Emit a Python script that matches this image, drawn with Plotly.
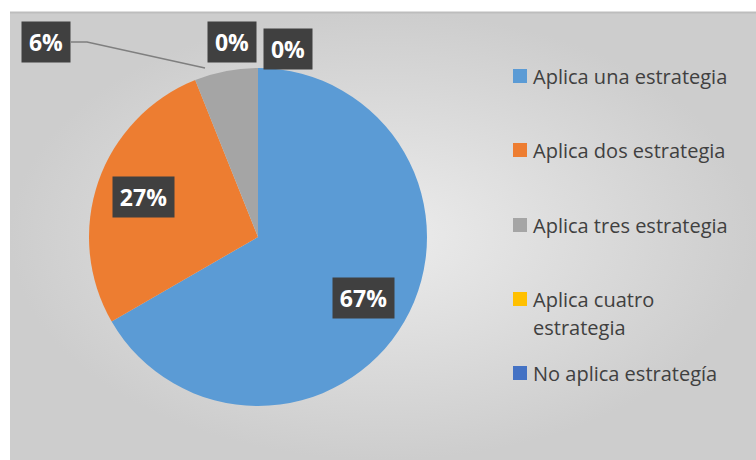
import math
import plotly.graph_objects as go

# ---- data ----
labels = ["Aplica una estrategia", "Aplica dos estrategia", "Aplica tres estrategia",
          "Aplica cuatro<br>estrategia", "No aplica estrategía"]
values = [22, 9, 2, 0, 0]
colors = ["#5b9bd5", "#ed7d31", "#a5a5a5", "#ffc000", "#4472c4"]

W, H = 756, 460
CX, CY, R = 258, 237, 169

total = sum(values)
pct_text = [f"{round(v / total * 100)}%" for v in values]

fig = go.Figure()

# background panel with gradient
fig.add_trace(go.Scatter(
    x=[10, W, W, 10, 10], y=[12, 12, H, H, 12], mode="lines", fill="toself",
    line=dict(width=0), hoverinfo="skip", showlegend=False,
    fillgradient=dict(type="radial", colorscale=[[0, "#ececec"], [1, "#cdcdcd"]]),
))

fig.add_trace(go.Pie(
    values=values, labels=labels, sort=False, direction="clockwise", rotation=0,
    marker=dict(colors=colors, line=dict(width=0)), textinfo="none",
    showlegend=False, hoverinfo="label+percent",
    domain=dict(x=[(CX - R) / W, (CX + R) / W], y=[1 - (CY + R) / H, 1 - (CY - R) / H]),
))

shapes = []
annotations = []

# data labels
outside_pos = {2: (46, 42), 3: (232, 42), 4: (288, 49)}
cum = 0
for i, v in enumerate(values):
    mid = (cum + v / 2) / total * 2 * math.pi
    cum += v
    if i in outside_pos:
        lx, ly = outside_pos[i]
    else:
        lx = CX + 0.72 * R * math.sin(mid)
        ly = CY - 0.72 * R * math.cos(mid)
    w = 48 if len(pct_text[i]) <= 2 else 61
    annotations.append(dict(
        x=lx, y=ly, xref="x", yref="y", text=f"<b>{pct_text[i]}</b>", showarrow=False,
        bgcolor="#404040", width=w, height=40, borderpad=0, align="center", valign="middle",
        font=dict(family="Open Sans", size=23, color="white"),
    ))

# leader line for 6%
shapes.append(dict(type="path", xref="x", yref="y", path="M 71 42 L 87 42 L 205 68",
                   line=dict(color="#7f7f7f", width=1.5)))

# top border of panel
shapes.append(dict(type="line", xref="x", yref="y", x0=10, x1=W, y0=12.5, y1=12.5,
                   line=dict(color="#bdbdbd", width=2)))

# legend
shapes.append(dict(type="rect", xref="x", yref="y", x0=501, x1=749, y0=53, y1=423,
                   fillcolor="rgba(255,255,255,0.4)", line=dict(width=0), layer="below"))
leg_y = [76, 150, 225, 299, 373]
for i, lab in enumerate(labels):
    y = leg_y[i]
    shapes.append(dict(type="rect", xref="x", yref="y", x0=513, x1=527, y0=y - 7, y1=y + 7,
                       fillcolor=colors[i], line=dict(width=0)))
    for k, line in enumerate(lab.split("<br>")):
        annotations.append(dict(
            x=531, y=y + 28 * k, xref="x", yref="y", text=line, showarrow=False,
            xanchor="left", yanchor="middle",
            font=dict(family="Open Sans", size=20, color="#404040"),
        ))

fig.update_layout(
    width=W, height=H, margin=dict(l=0, r=0, t=0, b=0),
    paper_bgcolor="white", plot_bgcolor="white",
    xaxis=dict(range=[0, W], visible=False, fixedrange=True),
    yaxis=dict(range=[H, 0], visible=False, fixedrange=True),
    shapes=shapes, annotations=annotations, showlegend=False,
)

fig.write_html("out.html", config={"displayModeBar": False},
               post_script="document.body.style.margin='0';")
